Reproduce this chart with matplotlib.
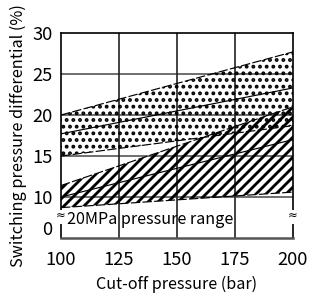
import matplotlib
matplotlib.use("Agg")
import matplotlib.pyplot as plt
import numpy as np

# data
x = [100, 200]
dot_upper = [20.0, 27.7]
dot_mid = [17.7, 23.3]
dot_lower = [15.0, 18.7]
hatch_upper = [11.4, 21.0]
hatch_mid = [10.0, 17.0]
hatch_lower = [8.7, 10.6]
xticks = [100, 125, 150, 175, 200]
yticks = [6.2, 10, 15, 20, 25, 30]
ytick_labels = ["0", "10", "15", "20", "25", "30"]
gridy = [10, 15, 20, 25]
gridx = [125, 150, 175]

plt.rcParams['font.family'] = ['Noto Sans CJK JP', 'DejaVu Sans']

fig = plt.figure(figsize=(311/120, 295/120), dpi=120)
ax = fig.add_axes([61/311, 1-238/295, (293-61)/311, (238-33)/295])
ax.set_xlim(100, 200)
ax.set_ylim(5, 30)

for g in gridy:
    ax.axhline(g, color='#555555', lw=1.0, zorder=1)
for g in gridx:
    ax.axvline(g, color='#222222', lw=1.0, zorder=1)

plt.rcParams['hatch.linewidth'] = 1.5
dots = ax.fill_between(x, dot_lower, dot_upper, facecolor='none', edgecolor='black',
                       hatch='...', lw=0, zorder=2)
plt.rcParams['hatch.linewidth'] = 1.7
lines = ax.fill_between(x, hatch_lower, hatch_upper, facecolor='none', edgecolor='black',
                        hatch='////', lw=0, zorder=3)
try:
    dots.set_hatch_linewidth(1.5)
    lines.set_hatch_linewidth(1.7)
except Exception:
    pass

for ys in (dot_upper, dot_lower, hatch_upper, hatch_lower):
    ax.plot(x, ys, color='black', lw=0.7, ls=(0, (8, 2)), zorder=4)
for ys in (dot_mid, hatch_mid):
    ax.plot(x, ys, color='black', lw=0.7, zorder=4)

ax.set_xticks(xticks)
ax.set_yticks(yticks)
ax.set_yticklabels(ytick_labels)
ax.tick_params(length=0, labelsize=11)
ax.tick_params(axis='x', pad=8)
ax.tick_params(axis='y', pad=5)
for s in ax.spines.values():
    s.set_color('black')
    s.set_linewidth(1.0)
ax.spines['bottom'].set_color('#555555')
ax.spines['bottom'].set_linewidth(1.5)

for xb in (100, 200):
    ax.text(xb, 7.6, '≈', ha='center', va='center', fontsize=7,
            family=['DejaVu Sans'], clip_on=False, zorder=6,
            bbox=dict(facecolor='white', edgecolor='none', pad=0.3))
ax.text(102.5, 7.2, '20MPa pressure range', ha='left', va='center', fontsize=9.7, zorder=6)

ax.set_xlabel('Cut-off pressure (bar)', fontsize=9.7, labelpad=4)
ax.set_ylabel('Switching pressure differential (%)', fontsize=9.8, labelpad=3)

fig.savefig('out.png', dpi=120)
